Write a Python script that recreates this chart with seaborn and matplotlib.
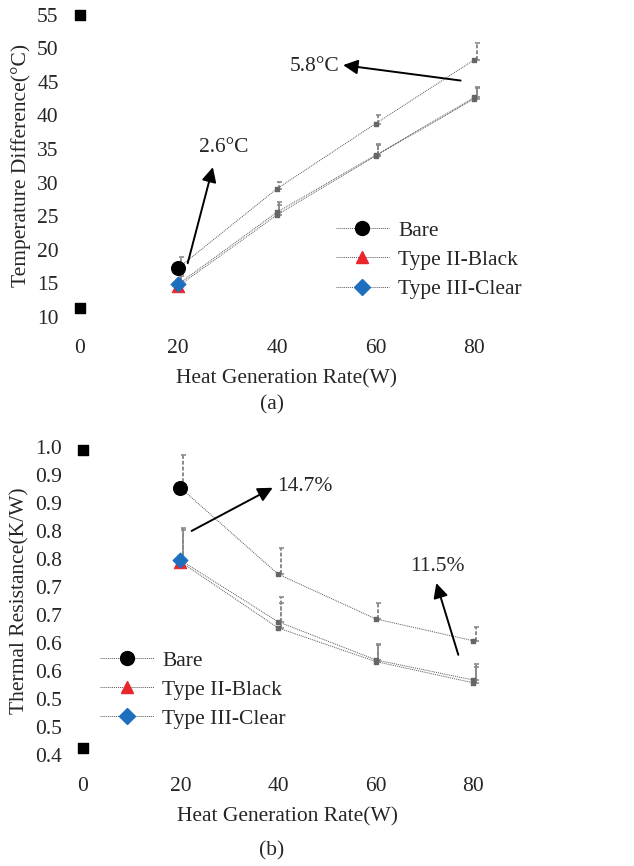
import matplotlib
matplotlib.use("Agg")
import matplotlib.pyplot as plt
from matplotlib.lines import Line2D
import numpy as np
import pandas as pd
import seaborn as sns

# ---- data ----
power = [20, 40, 60, 80]
series = ["Bare", "Type II-Black", "Type III-Clear"]

dT_bare = [17.3, 29.1, 38.8, 48.3]
dT_black = [14.6, 25.2, 34.0, 42.5]
dT_clear = [14.9, 25.6, 34.1, 42.7]
dT_err_bare = [1.6, 1.0, 1.3, 2.5]
dT_err_coat = [1.5, 1.5, 1.6, 1.6]

R_bare = [0.927, 0.773, 0.693, 0.654]
R_black = [0.795, 0.677, 0.617, 0.579]
R_clear = [0.798, 0.688, 0.620, 0.584]
R_err_bare = [0.059, 0.046, 0.029, 0.025]
R_err_coat = [0.057, 0.045, 0.029, 0.028]

# stray black glyphs sitting on the x=0 column
stray_a = [55, 11.3]
stray_b = [0.995, 0.462]

yticks_a = [10, 15, 20, 25, 30, 35, 40, 45, 50, 55]
yticks_b = [0.45, 0.50, 0.55, 0.60, 0.65, 0.70, 0.75, 0.80, 0.85, 0.90, 0.95, 1.00]
yticklabels_b = ["0.4", "0.5", "0.5", "0.6", "0.6", "0.7", "0.7", "0.8", "0.8", "0.9", "0.9", "1.0"]
xticks = [0, 20, 40, 60, 80]

sns.set_theme(style="white")
plt.rcParams["font.family"] = ["Liberation Serif", "DejaVu Serif"]
FS = 15.5

colors = {"Bare": "black", "Type II-Black": "#e8262b", "Type III-Clear": "#1f6fbf"}
markers = {"Bare": "o", "Type II-Black": "^", "Type III-Clear": "D"}
msizes = {"Bare": 100, "Type II-Black": 80, "Type III-Clear": 60}
LINE_KW = dict(color="#555555", linewidth=0.7, linestyle=(0, (1, 1)))


def draw_panel(ax, vals, errs, stray):
    df = pd.DataFrame({
        "power": power * 3,
        "value": vals[0] + vals[1] + vals[2],
        "series": np.repeat(series, len(power)),
    })
    for s in series:
        sub = df[df["series"] == s]
        sns.lineplot(data=sub, x="power", y="value", ax=ax, legend=False, **LINE_KW)
    # small grey error glyphs above points
    for s, e in zip(series, errs):
        sub = df[df["series"] == s]
        _, caps, bars = ax.errorbar(sub["power"] + 0.5, sub["value"], yerr=[np.zeros(len(e)), e],
                                    fmt="none", ecolor="#8a8a8a", elinewidth=1.4,
                                    capsize=1.8, capthick=1.2)
        for b in bars:
            b.set_linestyle((0, (2, 1)))
    # grey stubs at later points
    later = df[df["power"] > 20]
    ax.scatter(later["power"], later["value"], marker="s", s=10, color="#666666", zorder=3)
    # coloured markers at first point
    first = df[df["power"] == 20]
    for s in ["Type II-Black", "Type III-Clear", "Bare"]:
        row = first[first["series"] == s]
        sns.scatterplot(data=row, x="power", y="value", ax=ax, marker=markers[s],
                        s=msizes[s], color=colors[s], edgecolor=colors[s], zorder=4, legend=False)
    ax.scatter([0] * len(stray), stray, marker="s", s=55, color="black", zorder=4, clip_on=False)
    for sp in ax.spines.values():
        sp.set_visible(False)
    ax.set_xlim(-2, 86)
    ax.set_xticks(xticks)
    ax.tick_params(axis="both", length=0, labelsize=FS)
    ax.tick_params(axis="x", pad=16)
    ax.tick_params(axis="y", pad=8)
    ax.grid(False)


def legend_handles():
    return [Line2D([0], [0], marker=markers[s], color="#555555", lw=0.7, ls=(0, (1, 1)),
                   markerfacecolor=colors[s], markeredgecolor=colors[s],
                   markersize=10 if s == "Bare" else 8.5) for s in series]


LEG_KW = dict(frameon=False, fontsize=FS, handlelength=2.5, handletextpad=0.4,
              labelspacing=0.42, borderpad=0, borderaxespad=0, loc="upper left")

fig = plt.figure(figsize=(6.34, 8.66), dpi=100)

# ---- (a) temperature difference ----
ax1 = fig.add_axes([0.110, 0.634, 0.685, 0.349])
draw_panel(ax1, [dT_bare, dT_black, dT_clear], [dT_err_bare, dT_err_coat, dT_err_coat], stray_a)
ax1.set_ylim(10, 55)
ax1.set_yticks(yticks_a)
ax1.set_xlabel("Heat Generation Rate(W)", fontsize=FS, labelpad=8)
ax1.set_ylabel("Temperature Difference(°C)", fontsize=FS, labelpad=4)
ax1.legend(handles=legend_handles(), labels=series, bbox_to_anchor=(0.612, 0.318), **LEG_KW)
arrow = dict(arrowstyle="-|>", mutation_scale=22, lw=1.4, color="black", shrinkA=0, shrinkB=0)
ax1.annotate("", xy=(27.0, 32.3), xytext=(21.9, 18.0), arrowprops=arrow)
ax1.text(29.2, 35.2, "2.6°C", fontsize=FS, ha="center", va="center")
ax1.annotate("", xy=(53.4, 47.5), xytext=(77.2, 45.2), arrowprops=arrow)
ax1.text(47.7, 47.3, "5.8°C", fontsize=FS, ha="center", va="center")
fig.text(0.429, 0.532, "(a)", fontsize=FS, ha="center", va="center")

# ---- (b) thermal resistance ----
ax2 = fig.add_axes([0.115, 0.128, 0.678, 0.356])
draw_panel(ax2, [R_bare, R_black, R_clear], [R_err_bare, R_err_coat, R_err_coat], stray_b)
ax2.set_ylim(0.45, 1.0)
ax2.set_yticks(yticks_b)
ax2.set_yticklabels(yticklabels_b)
ax2.set_xlabel("Heat Generation Rate(W)", fontsize=FS, labelpad=8)
ax2.set_ylabel("Thermal Resistance(K/W)", fontsize=FS, labelpad=4)
ax2.legend(handles=legend_handles(), labels=series, bbox_to_anchor=(0.063, 0.339), **LEG_KW)
ax2.annotate("", xy=(38.9, 0.927), xytext=(22.3, 0.85), arrowprops=arrow)
ax2.text(45.4, 0.929, "14.7%", fontsize=FS, ha="center", va="center")
ax2.annotate("", xy=(72.4, 0.757), xytext=(76.9, 0.629), arrowprops=arrow)
ax2.text(72.6, 0.786, "11.5%", fontsize=FS, ha="center", va="center")
fig.text(0.429, 0.018, "(b)", fontsize=FS, ha="center", va="center")

fig.savefig("out.png", dpi=100)
